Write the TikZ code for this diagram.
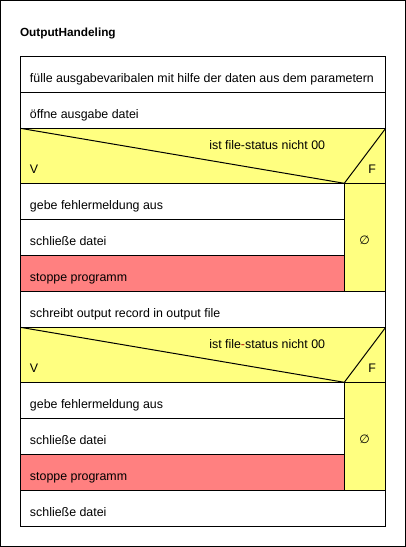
\documentclass[tikz,border=0pt]{standalone}
\usepackage{fontspec}
\setmainfont{Liberation Sans}
\newfontfamily\symfont{DejaVu Sans}
\definecolor{nsyellow}{HTML}{FFFF80}
\definecolor{nsred}{HTML}{FF8080}
\definecolor{hyred}{HTML}{B00000}
\begin{document}
\begin{tikzpicture}[x=1pt,y=-1pt,
  every node/.style={inner sep=0pt,outer sep=0pt,font=\fontsize{12.4}{14}\selectfont},
  box/.style={draw=black,line width=1pt},
  lbl/.style={anchor=base west},
  edge/.style={draw=black,line width=1pt}]
\useasboundingbox (0,0) rectangle (406,547);
\draw[line width=1pt] (0.5,0.5) rectangle (405.5,546.5);
\node[lbl,font=\fontsize{11.8}{14}\selectfont\bfseries] (title) at (20,36) {OutputHandeling};
% rows
\path[box,fill=white] (20.3,56.7) rectangle (385.7,92.3);
\node[lbl] (t1) at (30,82) {fülle ausgabevaribalen mit hilfe der daten aus dem parametern};
\path[box,fill=white] (20.3,92.3) rectangle (385.7,128.3);
\node[lbl] (t2) at (30,118) {öffne ausgabe datei};
% condition 1
\path[box,fill=nsyellow] (20.3,128.3) rectangle (385.7,183.3);
\coordinate (c1l) at (20.3,128.3);
\coordinate (c1m) at (344.3,183.3);
\coordinate (c1r) at (385.7,128.3);
\draw[edge] (c1l) -- (c1m) -- (c1r);
\node[lbl] (q1) at (209.3,149.3) {ist file-status nicht 00};
\node[lbl] (v1) at (30,173) {V};
\node[lbl] (f1) at (368.3,173) {F};
\path[box,fill=white] (20.3,183.3) rectangle (344.3,219.3);
\node[lbl] (t3) at (30,209) {gebe fehlermeldung aus};
\path[box,fill=white] (20.3,219.3) rectangle (344.3,255.3);
\node[lbl] (t4) at (30,245) {schließe datei};
\path[box,fill=nsred] (20.3,255.3) rectangle (344.3,291.3);
\node[lbl] (t5) at (30,281) {stoppe programm};
\path[box,fill=nsyellow] (344.3,183.3) rectangle (385.7,291.3);
\node (e1) at (364.5,240.5) {\symfont\fontsize{12}{14}\selectfont ∅};
% write
\path[box,fill=white] (20.3,291.3) rectangle (385.7,327.3);
\node[lbl] (t6) at (30,317) {schreibt output record in output file};
% condition 2
\path[box,fill=nsyellow] (20.3,327.3) rectangle (385.7,382.3);
\coordinate (c2l) at (20.3,327.3);
\coordinate (c2m) at (344.3,382.3);
\coordinate (c2r) at (385.7,327.3);
\draw[edge] (c2l) -- (c2m) -- (c2r);
\node[lbl] (q2) at (209.3,348.3) {ist file{\color{hyred}-}status nicht 00};
\node[lbl] (v2) at (30,372) {V};
\node[lbl] (f2) at (368.3,372) {F};
\path[box,fill=white] (20.3,382.3) rectangle (344.3,418.3);
\node[lbl] (t7) at (30,408) {gebe fehlermeldung aus};
\path[box,fill=white] (20.3,418.3) rectangle (344.3,454.3);
\node[lbl] (t8) at (30,444) {schließe datei};
\path[box,fill=nsred] (20.3,454.3) rectangle (344.3,490.3);
\node[lbl] (t9) at (30,480) {stoppe programm};
\path[box,fill=nsyellow] (344.3,382.3) rectangle (385.7,490.3);
\node (e2) at (364.5,439.5) {\symfont\fontsize{12}{14}\selectfont ∅};
\path[box,fill=white] (20.3,490.3) rectangle (385.7,526);
\node[lbl] (t10) at (30,516) {schließe datei};
\end{tikzpicture}
\end{document}
